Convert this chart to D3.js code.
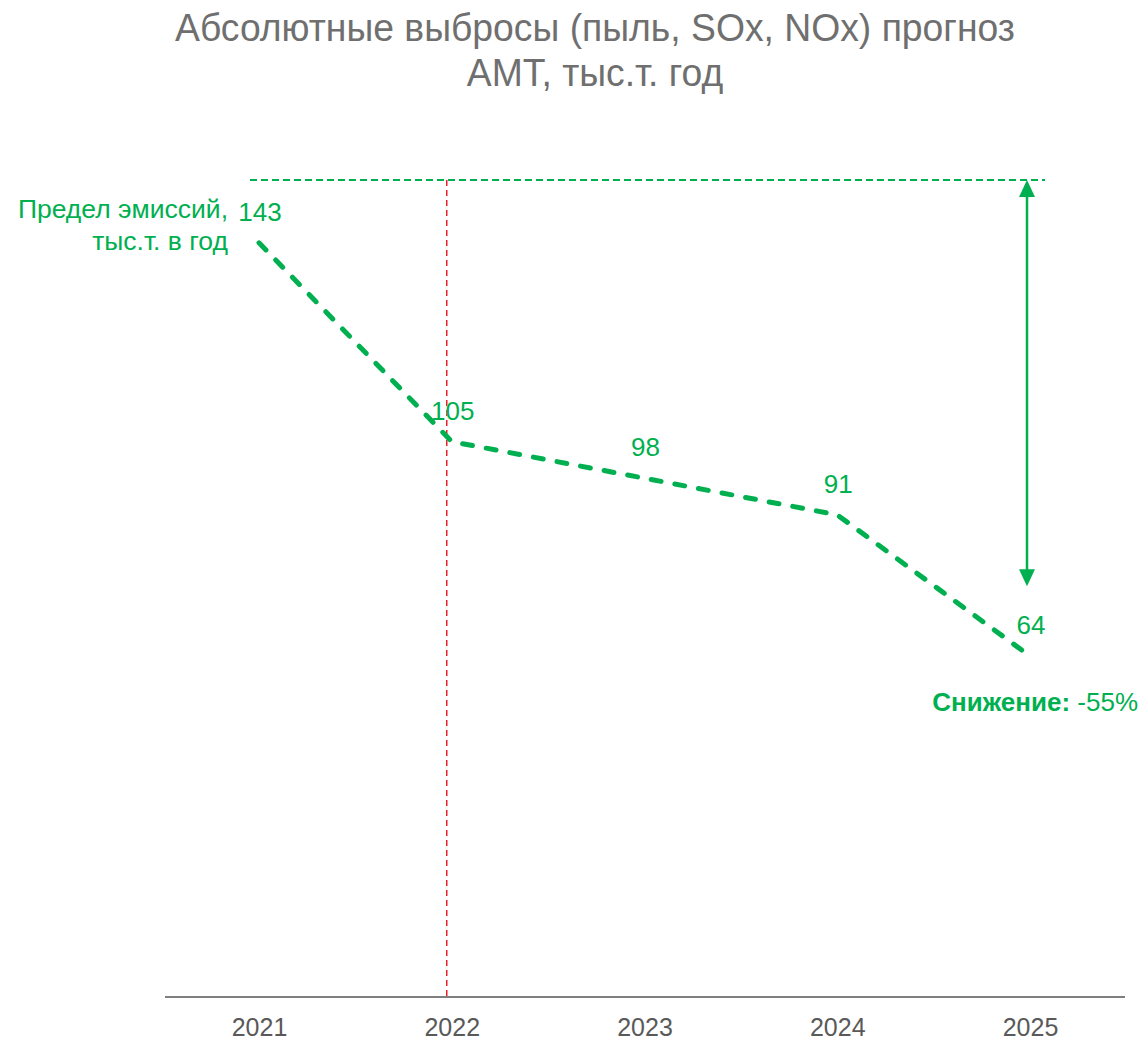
<!DOCTYPE html>
<html>
<head>
<meta charset="utf-8">
<script src="https://cdn.jsdelivr.net/npm/d3@7"></script>
<style>
  body { margin: 0; background: #fff; }
  text { font-family: "Liberation Sans", Arial, sans-serif; }
</style>
</head>
<body>
<div id="chart"></div>
<script>
var width = 1143;
var height = 1042;

// data
var years = ["2021", "2022", "2023", "2024", "2025"];
var emissions = [143, 105, 98, 91, 64];
var limitValue = 155;
var markerYear = "2022";
var titleLines = ["Абсолютные выбросы (пыль, SOx, NOx) прогноз", "AMT, тыс.т. год"];
var limitLabel = ["Предел эмиссий,", "тыс.т. в год"];
var reduction = "-55%";

var green = "#00b050";
var gray = "#6f6f6f";

var svg = d3.select("#chart")
  .append("svg")
  .attr("width", width)
  .attr("height", height);

var x = d3.scalePoint()
  .domain(years)
  .range([259, 1030]);

var y = d3.scaleLinear()
  .domain([0, limitValue])
  .range([991, 180]);

// title (narrow rendering like the original)
var titles = svg.append("g").selectAll("g")
  .data(titleLines)
  .enter().append("g")
  .attr("transform", (d, i) => "translate(595," + (41 + i * 45) + ")");
titles.append("text")
  .attr("text-anchor", "middle")
  .attr("font-size", 39)
  .attr("fill", gray)
  .text(d => d);
var tLen = titles.select("text").node().getComputedTextLength();
var squeeze = 840 / tLen;
titles.attr("transform", function(d, i) {
  return "translate(595," + (41 + i * 45) + ") scale(" + squeeze + ",1)";
});

// x axis
var axisY = y(0) + 6;
var xAxis = svg.append("g")
  .attr("transform", "translate(0," + axisY + ")")
  .call(d3.axisBottom(x).tickSize(0).tickPadding(21));
xAxis.select(".domain").remove();
xAxis.selectAll("text")
  .attr("font-size", 25)
  .attr("fill", "#595959")
  .style("font-family", "Liberation Sans, Arial, sans-serif");

svg.append("line")
  .attr("x1", 165).attr("x2", 1125)
  .attr("y1", axisY).attr("y2", axisY)
  .attr("stroke", "#7f7f7f")
  .attr("stroke-width", 2);

// red marker line
svg.append("line")
  .attr("x1", x(markerYear) - 5).attr("x2", x(markerYear) - 5)
  .attr("y1", y(limitValue)).attr("y2", axisY)
  .attr("stroke", "#e8202a")
  .attr("stroke-width", 1.5)
  .attr("stroke-dasharray", "6 4");

// limit line
svg.append("line")
  .attr("x1", 250).attr("x2", 1045)
  .attr("y1", y(limitValue)).attr("y2", y(limitValue))
  .attr("stroke", green)
  .attr("stroke-width", 1.8)
  .attr("stroke-dasharray", "7 4");

// emissions line
var line = d3.line()
  .x((d, i) => x(years[i]))
  .y(d => y(d));

svg.append("path")
  .datum(emissions)
  .attr("d", line)
  .attr("fill", "none")
  .attr("stroke", green)
  .attr("stroke-width", 5)
  .attr("stroke-linecap", "round")
  .attr("stroke-linejoin", "round")
  .attr("stroke-dasharray", "10 14");

// value labels
svg.append("g").selectAll("text")
  .data(emissions)
  .enter().append("text")
  .attr("x", (d, i) => x(years[i]) + 1)
  .attr("y", d => y(d) - 22)
  .attr("text-anchor", "middle")
  .attr("font-size", 26)
  .attr("fill", green)
  .text(d => d);

// limit label
svg.append("g").selectAll("text")
  .data(limitLabel)
  .enter().append("text")
  .attr("x", 228)
  .attr("y", (d, i) => 218 + i * 32)
  .attr("text-anchor", "end")
  .attr("font-size", 26.5)
  .attr("fill", green)
  .text(d => d);

// reduction arrow
var last = emissions[emissions.length - 1];
var ax = x(years[years.length - 1]) - 3;
var aTop = y(limitValue);
var aBot = y(last) - 70;
svg.append("line")
  .attr("x1", ax).attr("x2", ax)
  .attr("y1", aTop + 12).attr("y2", aBot - 12)
  .attr("stroke", green)
  .attr("stroke-width", 2.5);
svg.append("path")
  .attr("d", "M" + ax + "," + aTop + "l-8,17h16z")
  .attr("fill", green);
svg.append("path")
  .attr("d", "M" + ax + "," + aBot + "l-8,-17h16z")
  .attr("fill", green);

// reduction label
var red = svg.append("text")
  .attr("x", 1138)
  .attr("y", y(last) + 55)
  .attr("text-anchor", "end")
  .attr("font-size", 26)
  .attr("fill", green);
red.append("tspan").attr("font-weight", "bold").text("Снижение: ");
red.append("tspan").text(reduction);
</script>
</body>
</html>
